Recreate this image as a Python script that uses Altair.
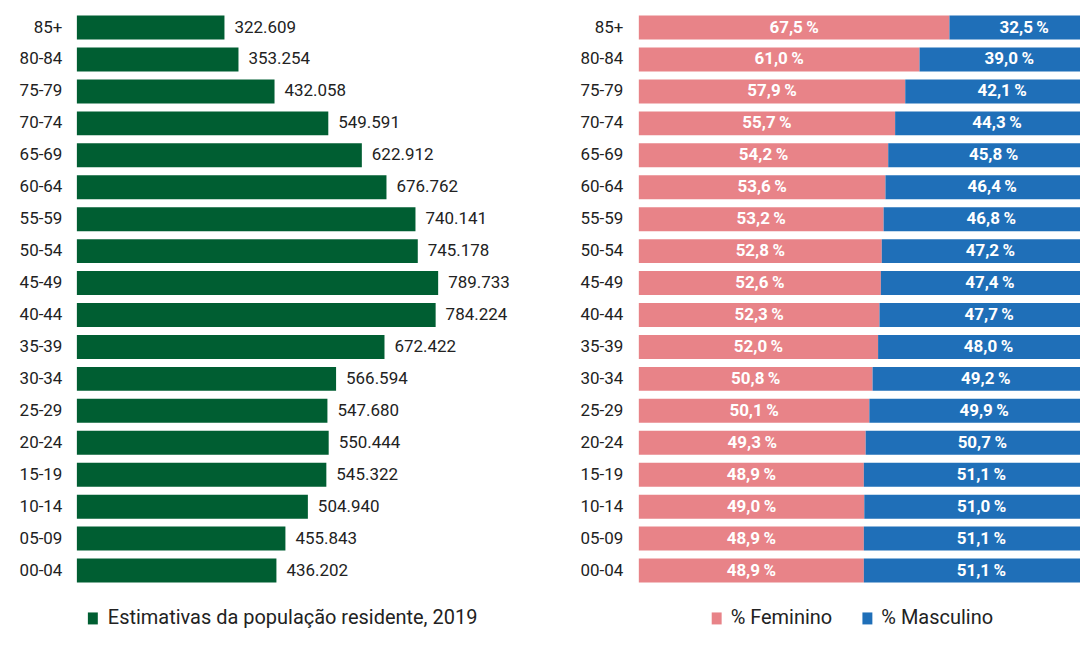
import altair as alt
import pandas as pd

ages = ["85+", "80-84", "75-79", "70-74", "65-69", "60-64", "55-59", "50-54", "45-49",
        "40-44", "35-39", "30-34", "25-29", "20-24", "15-19", "10-14", "05-09", "00-04"]
populacao = [322609, 353254, 432058, 549591, 622912, 676762, 740141, 745178, 789733,
             784224, 672422, 566594, 547680, 550444, 545322, 504940, 455843, 436202]
feminino = [67.5, 61.0, 57.9, 55.7, 54.2, 53.6, 53.2, 52.8, 52.6,
            52.3, 52.0, 50.8, 50.1, 49.3, 48.9, 49.0, 48.9, 48.9]
masculino = [32.5, 39.0, 42.1, 44.3, 45.8, 46.4, 46.8, 47.2, 47.4,
             47.7, 48.0, 49.2, 49.9, 50.7, 51.1, 51.0, 51.1, 51.1]

serie_pop = "Estimativas da população residente, 2019"
sexos = ["% Feminino", "% Masculino"]

GREEN = "#005E32"
PINK = "#E88388"
BLUE = "#1F6FB8"
FONT = "Roboto"
TXT = "#222222"

df_pop = pd.DataFrame({
    "age": ages,
    "pop": populacao,
    "label": [f"{v:,}".replace(",", ".") for v in populacao],
    "serie": serie_pop,
})

rows = []
for a, f, m in zip(ages, feminino, masculino):
    rows.append({"age": a, "sexo": sexos[0], "pct": f, "order": 0,
                 "label": f"{f:.1f}".replace(".", ",") + "\u2009%"})
    rows.append({"age": a, "sexo": sexos[1], "pct": m, "order": 1,
                 "label": f"{m:.1f}".replace(".", ",") + "\u2009%"})
df_sex = pd.DataFrame(rows)

yscale = alt.Scale(domain=ages, paddingInner=0.25, paddingOuter=0.125)
LEG_Y = 598

# ---- left panel
xl = alt.Scale(domain=[0, 960000])
left_base = alt.Chart(df_pop)
left_bars = left_base.mark_bar(color=GREEN).encode(
    x=alt.X("pop:Q", scale=xl, axis=None),
    y=alt.Y("age:N", scale=yscale, sort=ages,
            axis=alt.Axis(title=None, labelPadding=15, minExtent=69, maxExtent=69,
                          labelFontSize=17, labelColor=TXT, labelFont=FONT,
                          domain=False, ticks=False, grid=False)),
    color=alt.Color("serie:N", scale=alt.Scale(domain=[serie_pop], range=[GREEN]),
                    legend=alt.Legend(title=None, orient="none", legendX=6, legendY=LEG_Y,
                                      symbolType="M-0.83,-1H0.83V1H-0.83Z", symbolSize=144,
                                      symbolStrokeWidth=0, labelFontSize=20, labelFont=FONT,
                                      labelColor=TXT, labelOffset=5, padding=0,
                                      labelLimit=600)),
)
left_text = left_base.mark_text(align="left", baseline="middle", dx=10, fontSize=17,
                                font=FONT, color=TXT).encode(
    x=alt.X("pop:Q", scale=xl, axis=None),
    y=alt.Y("age:N", scale=yscale, sort=ages),
    text="label:N",
)
left = alt.layer(left_bars, left_text).properties(width=440, height=576)

# ---- right panel
xr = alt.Scale(domain=[0, 100])
right_base = alt.Chart(df_sex)
right_bars = right_base.mark_bar().encode(
    x=alt.X("pct:Q", stack="zero", scale=xr, axis=None),
    y=alt.Y("age:N", scale=yscale, sort=ages,
            axis=alt.Axis(title=None, labelPadding=16, minExtent=65, maxExtent=65,
                          labelFontSize=17, labelColor=TXT, labelFont=FONT,
                          domain=False, ticks=False, grid=False)),
    color=alt.Color("sexo:N", scale=alt.Scale(domain=sexos, range=[PINK, BLUE]),
                    legend=alt.Legend(title=None, orient="none", legendX=68, legendY=LEG_Y,
                                      direction="horizontal",
                                      symbolType="M-0.83,-1H0.83V1H-0.83Z", symbolSize=144,
                                      symbolStrokeWidth=0, labelFontSize=20, labelFont=FONT,
                                      labelColor=TXT, labelOffset=4, columnPadding=25,
                                      padding=0)),
    order=alt.Order("order:Q"),
)
right_text = right_base.transform_stack(
    stack="pct", groupby=["age"], as_=["x0", "x1"], sort=[alt.SortField("order")]
).transform_calculate(
    mid="(datum.x0 + datum.x1) / 2"
).mark_text(align="center", baseline="middle", fontSize=17, fontWeight="bold",
            font=FONT, color="white").encode(
    x=alt.X("mid:Q", scale=xr, axis=None),
    y=alt.Y("age:N", scale=yscale, sort=ages),
    text="label:N",
)
right = alt.layer(right_bars, right_text).properties(width=461, height=576)

chart = alt.hconcat(left, right, spacing=58).resolve_scale(
    color="independent", x="independent"
).properties(
    padding={"left": 0, "top": 3, "right": -19, "bottom": 0}
).configure_view(stroke=None)

chart.save("out.html", embed_options={"renderer": "svg", "actions": False})
